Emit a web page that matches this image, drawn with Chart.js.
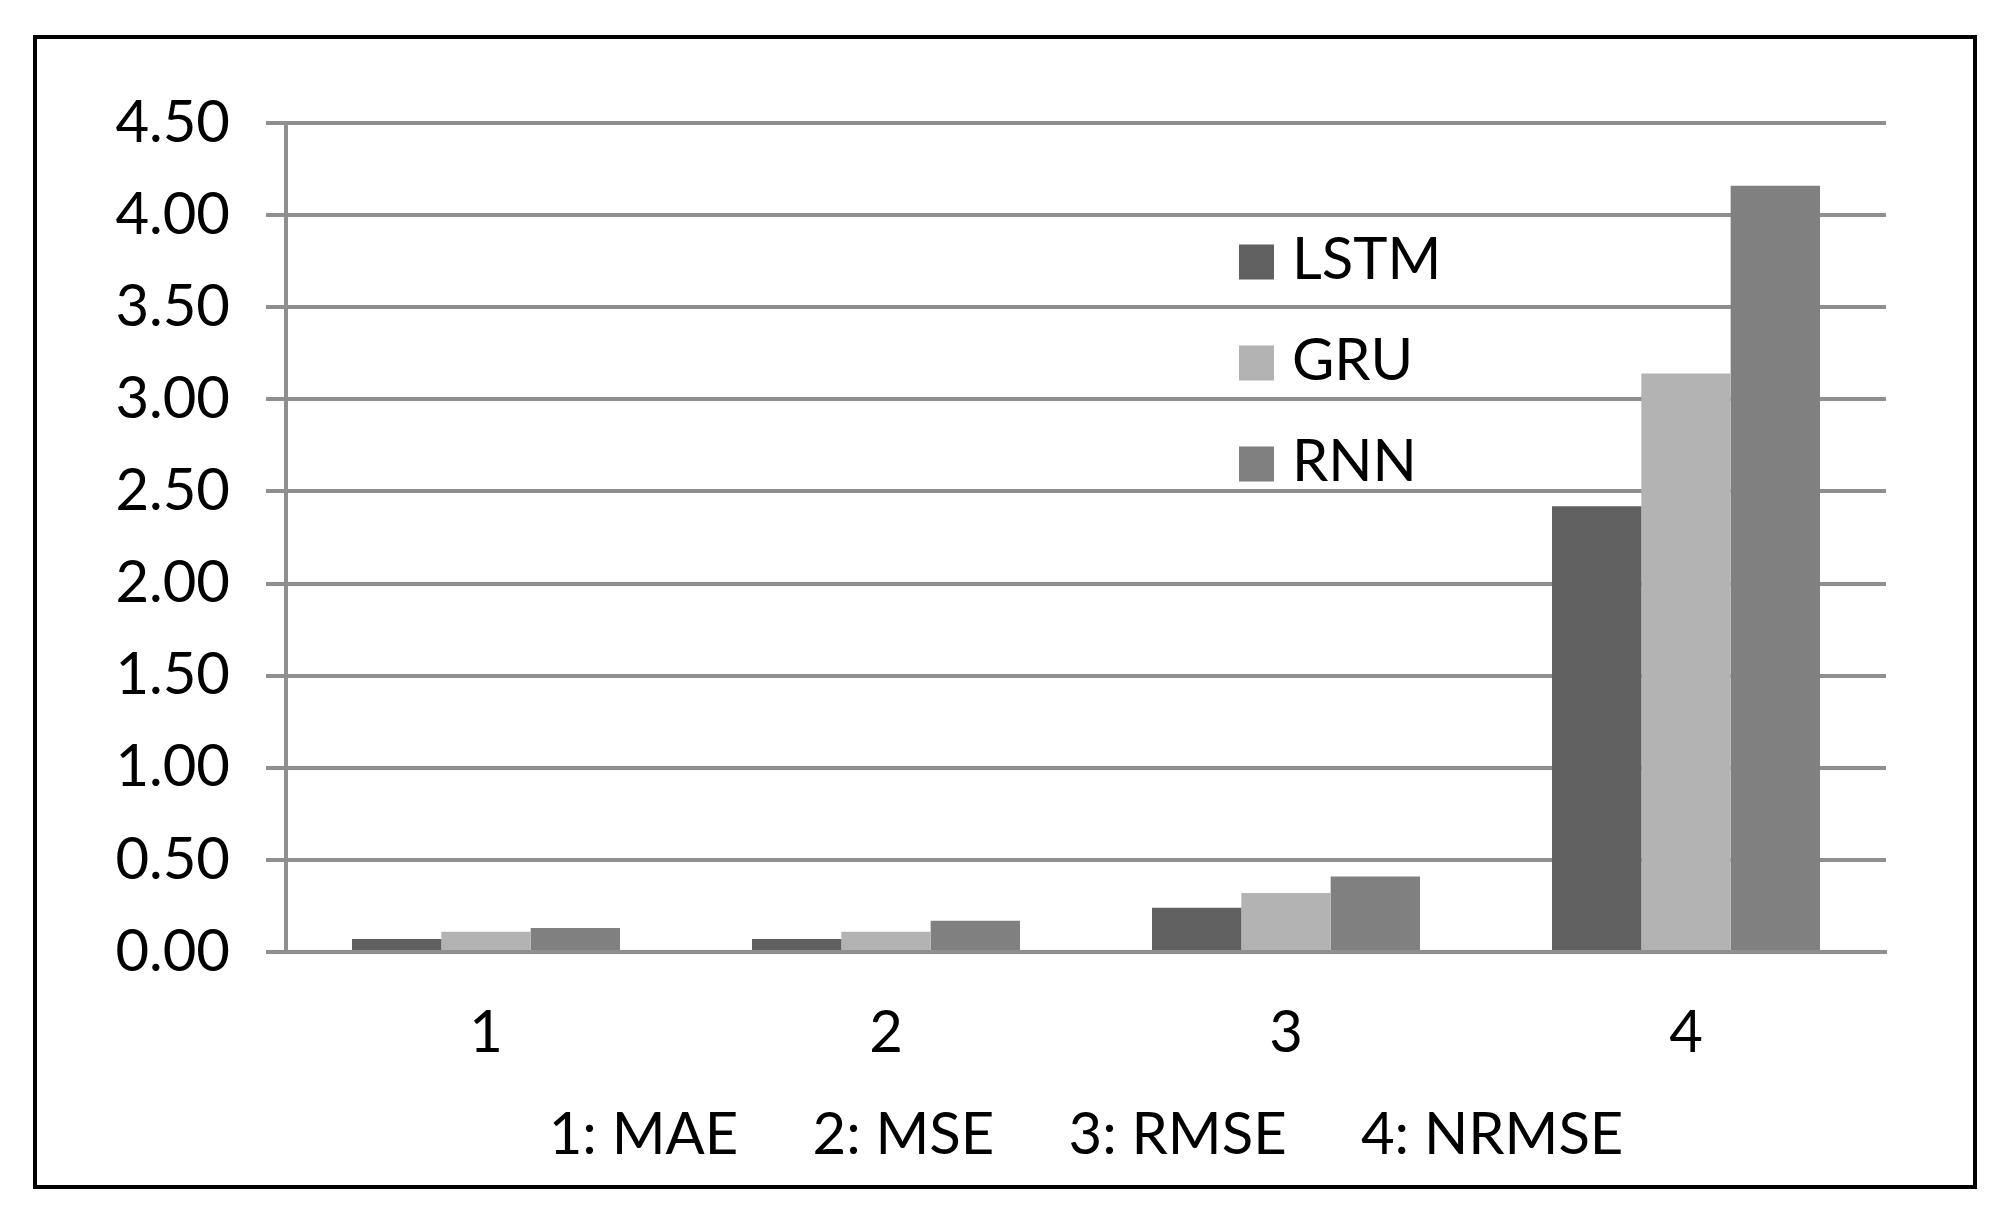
<!DOCTYPE html>
<html>
<head>
<meta charset="utf-8">
<script src="https://cdn.jsdelivr.net/npm/chart.js@4"></script>
<style>
html,body{margin:0;padding:0;background:#fff;}
#wrap{width:2002px;height:1205px;position:relative;}
</style>
</head>
<body>
<div id="wrap"><canvas id="c" width="2002" height="1205"></canvas></div>
<script>
const categories = ["1", "2", "3", "4"];
const seriesNames = ["LSTM", "GRU", "RNN"];
const lstmValues = [0.07, 0.07, 0.24, 2.42];
const gruValues = [0.11, 0.11, 0.32, 3.14];
const rnnValues = [0.13, 0.17, 0.41, 4.16];
const yTicks = [0, 0.5, 1, 1.5, 2, 2.5, 3, 3.5, 4, 4.5];
const xTitle = "1: MAE     2: MSE     3: RMSE     4: NRMSE";

const colors = ["#606060", "#b3b3b3", "#808080"];
const FONT = "Lato, 'Open Sans', sans-serif";
const gridColor = "#8f8f8f";

const frame = {
  id: 'frame',
  beforeDraw(chart) {
    const ctx = chart.ctx;
    ctx.save();
    ctx.fillStyle = '#fff';
    ctx.fillRect(0, 0, chart.width, chart.height);
    ctx.strokeStyle = '#000';
    ctx.lineWidth = 4;
    ctx.strokeRect(35, 37, 1940, 1150);
    ctx.restore();
  }
};

const innerLegend = {
  id: 'innerLegend',
  afterDatasetsDraw(chart) {
    const ctx = chart.ctx;
    ctx.save();
    const x0 = 1239, size = 35, ys = [262, 363, 464];
    chart.data.datasets.forEach((ds, i) => {
      ctx.fillStyle = ds.backgroundColor;
      ctx.fillRect(x0, ys[i] - size / 2, size, size);
      ctx.fillStyle = '#000';
      ctx.font = "58px " + FONT;
      ctx.textBaseline = 'middle';
      ctx.textAlign = 'left';
      ctx.fillText(ds.label, 1292, ys[i] - 2);
    });
    ctx.restore();
  }
};

new Chart(document.getElementById('c'), {
  type: 'bar',
  data: {
    labels: categories,
    datasets: [
      { label: seriesNames[0], data: lstmValues, backgroundColor: colors[0] },
      { label: seriesNames[1], data: gruValues, backgroundColor: colors[1] },
      { label: seriesNames[2], data: rnnValues, backgroundColor: colors[2] }
    ]
  },
  options: {
    responsive: false,
    animation: false,
    devicePixelRatio: 1,
    layout: { padding: { left: 0, top: 123, right: 116, bottom: 35 } },
    plugins: {
      legend: { display: false },
      tooltip: { enabled: false }
    },
    datasets: { bar: { categoryPercentage: 0.67, barPercentage: 1.0 } },
    scales: {
      x: {
        grid: { display: false, drawTicks: false },
        border: { display: true, color: gridColor, width: 4 },
        ticks: { color: '#000', font: { family: FONT, size: 58 }, padding: 46 },
        title: {
          display: true, text: xTitle, color: '#000',
          font: { family: FONT, size: 58 }, padding: { top: 10, bottom: 0 }
        },
        afterFit(scale) { scale.height = 1170 - 952; }
      },
      y: {
        min: 0, max: 4.5,
        afterBuildTicks(scale) { scale.ticks = yTicks.map(v => ({ value: v })); },
        grid: { color: gridColor, lineWidth: 4, tickLength: 20, drawTicks: true },
        border: { display: true, color: gridColor, width: 4 },
        ticks: {
          color: '#000', font: { family: FONT, size: 58 }, padding: 36,
          callback: v => v.toFixed(2)
        },
        afterFit(scale) { scale.width = 286; }
      }
    }
  },
  plugins: [frame, innerLegend]
});
</script>
</body>
</html>
